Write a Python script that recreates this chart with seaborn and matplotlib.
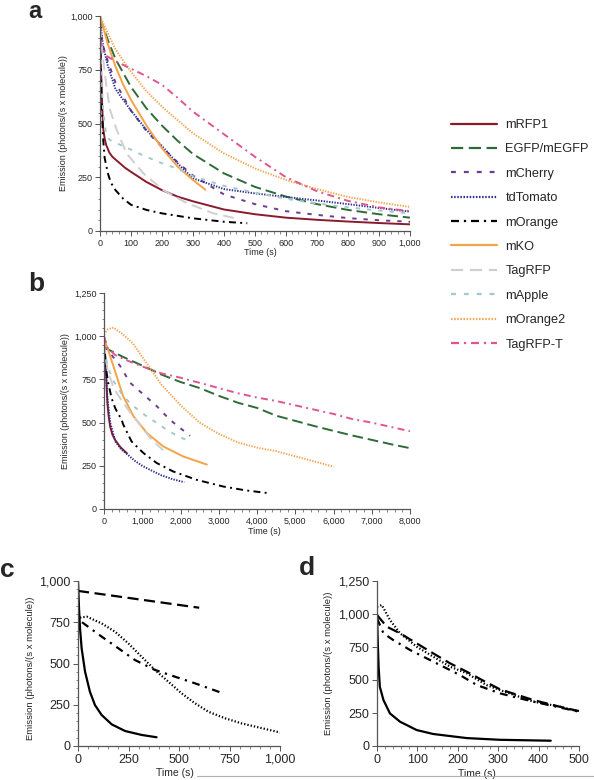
import numpy as np
import pandas as pd
import seaborn as sns
import matplotlib
matplotlib.use("Agg")
import matplotlib.pyplot as plt
from matplotlib.ticker import FuncFormatter, AutoMinorLocator, MultipleLocator
from matplotlib.lines import Line2D

sns.set_style("ticks")
plt.rcParams['font.family'] = ['Liberation Sans', 'DejaVu Sans']

# ---------------- categories / styles ----------------
PROTEINS = ["mRFP1", "EGFP/mEGFP", "mCherry", "tdTomato", "mOrange",
            "mKO", "TagRFP", "mApple", "mOrange2", "TagRFP-T"]
COLORS = ["#8b1a2b", "#2f6b38", "#6b3d8f", "#2b2f8f", "#000000",
          "#f4a347", "#cfcfcf", "#a3c8cf", "#f2a552", "#e0558e"]

# ---------------- panel a data (time s, emission) ----------------
a_time = {
    "mRFP1": [0, 3, 6, 10, 15, 20, 30, 40, 60, 80, 100, 150, 200, 250, 300, 400, 500, 600, 700, 800, 900, 1000],
    "EGFP/mEGFP": [0, 25, 50, 100, 150, 200, 250, 300, 400, 500, 600, 700, 800, 900, 1000],
    "mCherry": [0, 5, 10, 25, 50, 100, 150, 200, 250, 300, 400, 500, 600, 700, 800, 900, 1000],
    "tdTomato": [0, 5, 10, 25, 50, 100, 150, 200, 250, 300, 400, 500, 600, 700, 800, 900, 1000],
    "mOrange": [0, 2, 5, 10, 15, 25, 35, 50, 75, 100, 150, 200, 300, 400, 475],
    "mKO": [0, 10, 25, 50, 75, 100, 150, 200, 250, 300, 340],
    "TagRFP": [0, 10, 20, 32, 54, 86, 140, 204, 280, 366, 450],
    "mApple": [0, 5, 10, 20, 30, 50, 75, 100, 150, 200, 250, 300, 400, 500, 600, 700, 800, 900, 1000],
    "mOrange2": [0, 25, 50, 100, 150, 200, 300, 400, 500, 600, 700, 800, 900, 1000],
    "TagRFP-T": [0, 10, 20, 50, 100, 150, 200, 250, 300, 400, 500, 600, 700, 800, 900, 1000],
}
a_emis = {
    "mRFP1": [1000, 780, 620, 480, 430, 400, 365, 345, 320, 295, 275, 228, 190, 160, 138, 100, 78, 62, 52, 44, 37, 31],
    "EGFP/mEGFP": [990, 890, 800, 670, 570, 490, 420, 358, 268, 205, 160, 125, 98, 78, 62],
    "mCherry": [960, 900, 860, 790, 690, 560, 465, 390, 320, 258, 170, 125, 92, 75, 60, 50, 43],
    "tdTomato": [1000, 920, 860, 770, 660, 560, 470, 395, 315, 245, 195, 175, 158, 142, 125, 107, 90],
    "mOrange": [1000, 800, 600, 430, 340, 270, 225, 190, 150, 122, 98, 82, 59, 43, 36],
    "mKO": [1000, 950, 870, 765, 680, 610, 490, 385, 300, 237, 192],
    "TagRFP": [950, 800, 680, 565, 470, 360, 268, 190, 130, 82, 55],
    "mApple": [900, 700, 560, 450, 425, 410, 395, 378, 345, 315, 290, 255, 210, 178, 150, 128, 110, 95, 82],
    "mOrange2": [1000, 920, 845, 740, 650, 578, 454, 361, 291, 237, 195, 158, 133, 112],
    "TagRFP-T": [890, 840, 815, 790, 755, 720, 680, 620, 555, 450, 345, 250, 185, 140, 110, 92],
}

# ---------------- panel b data ----------------
b_time = {
    "mRFP1": [0, 25, 50, 70, 90, 120, 160, 220, 290, 420, 600],
    "EGFP/mEGFP": [0, 500, 1000, 1500, 2000, 2500, 3000, 3500, 4000, 4500, 5000, 5500, 6000, 6500, 7000, 7500, 8000],
    "mCherry": [0, 150, 420, 680, 1030, 1380, 1720, 1990, 2250],
    "tdTomato": [0, 25, 50, 90, 160, 300, 450, 600, 800, 1000, 1200, 1500, 1800, 2100],
    "mOrange": [0, 25, 50, 100, 200, 300, 460, 500, 720, 1030, 1380, 1810, 2420, 3120, 3700, 4250],
    "mKO": [0, 160, 330, 500, 770, 1120, 1550, 2070, 2690],
    "TagRFP": [0, 50, 100, 250, 500, 750, 1000, 1250, 1550],
    "mApple": [0, 100, 250, 500, 770, 1110, 1380, 1640, 1940, 2250],
    "mOrange2": [0, 100, 250, 500, 750, 1000, 1500, 2000, 2500, 3000, 3500, 4000, 4500, 5000, 5500, 6000],
    "TagRFP-T": [0, 100, 300, 600, 1000, 1500, 2000, 2500, 3000, 3500, 4000, 4500, 5000, 5500, 6000, 6500, 7000, 7500, 8000],
}
b_emis = {
    "mRFP1": [1000, 900, 810, 700, 610, 540, 478, 430, 400, 360, 322],
    "EGFP/mEGFP": [935, 880, 830, 778, 735, 700, 655, 615, 585, 540, 510, 480, 452, 425, 400, 375, 352],
    "mCherry": [940, 905, 828, 731, 663, 595, 517, 469, 424],
    "tdTomato": [1000, 880, 790, 640, 500, 390, 345, 318, 280, 250, 227, 195, 172, 155],
    "mOrange": [1000, 900, 820, 740, 640, 580, 517, 490, 391, 324, 266, 217, 169, 130, 108, 93],
    "mKO": [990, 886, 769, 653, 537, 440, 362, 304, 257],
    "TagRFP": [960, 870, 800, 700, 615, 540, 470, 400, 340],
    "mApple": [930, 820, 740, 653, 595, 537, 498, 459, 420, 391],
    "mOrange2": [1010, 1040, 1050, 1010, 960, 880, 720, 600, 500, 435, 385, 355, 335, 305, 275, 245],
    "TagRFP-T": [1000, 930, 890, 860, 825, 785, 760, 730, 700, 670, 645, 625, 600, 575, 550, 520, 500, 475, 450],
}

# ---------------- panel c data (four black curves) ----------------
c_time = {
    "solid": [0, 5, 10, 18, 35, 59, 84, 117, 167, 233, 315, 389],
    "dashed": [0, 100, 200, 300, 400, 500, 600],
    "dotted": [10, 43, 117, 183, 249, 315, 381, 447, 513, 579, 645, 728, 810, 893, 1000],
    "dashdot": [20, 117, 200, 282, 381, 480, 579, 700],
}
c_emis = {
    "solid": [1000, 834, 713, 592, 450, 329, 248, 188, 131, 91, 67, 53],
    "dashed": [940, 923, 906, 889, 872, 855, 838],
    "dotted": [778, 784, 743, 693, 622, 541, 461, 390, 319, 259, 208, 168, 137, 113, 82],
    "dashdot": [750, 663, 592, 521, 461, 420, 380, 327],
}

# ---------------- panel d data ----------------
d_time = {
    "solid": [0, 2, 4, 7, 16, 32, 57, 98, 139, 222, 304, 430],
    "dashed": [0, 24, 57, 98, 139, 181, 222, 263, 304, 387, 469, 500],
    "dotted": [0, 12, 32, 57, 98, 139, 181, 222, 271, 304, 387, 453, 500],
    "dashdot": [0, 16, 40, 82, 123, 164, 205, 247, 304, 387, 500],
}
d_emis = {
    "solid": [1000, 780, 601, 449, 348, 247, 184, 121, 91, 60, 47, 40],
    "dashed": [993, 904, 854, 778, 702, 626, 563, 495, 430, 348, 285, 265],
    "dotted": [1055, 1068, 955, 854, 753, 677, 601, 551, 462, 424, 336, 298, 260],
    "dashdot": [967, 854, 803, 727, 664, 601, 538, 462, 399, 336, 260],
}

CD_SERIES = ["solid", "dashed", "dotted", "dashdot"]

# ---------------- styles ----------------
DASHES = {
    "mRFP1": "",
    "EGFP/mEGFP": (5.5, 2.5),
    "mCherry": (2.2, 3.6),
    "tdTomato": (0.7, 0.7),
    "mOrange": (3.6, 2.2, 1.0, 2.2),
    "mKO": "",
    "TagRFP": (5.5, 3.0),
    "mApple": (2.2, 3.6),
    "mOrange2": (0.7, 0.7),
    "TagRFP-T": (3.6, 2.2, 1.0, 2.2),
}
CD_DASHES = {"solid": "", "dashed": (5, 2.5), "dotted": (0.6, 0.9), "dashdot": (3.5, 2.5, 1.0, 2.5)}
PALETTE = dict(zip(PROTEINS, COLORS))


def long_df(times, emis):
    rows = []
    for k in times:
        for t, v in zip(times[k], emis[k]):
            rows.append((k, t, v))
    return pd.DataFrame(rows, columns=["series", "time", "emission"])


thous = FuncFormatter(lambda x, p: f"{x:,.0f}")
SPINE = "#555555"

fig = plt.figure(figsize=(5.94, 7.80), dpi=100)
W, H = 594.0, 780.0


def add_ax(l, r, t, b):
    return fig.add_axes([l / W, 1 - b / H, (r - l) / W, (b - t) / H])


def style_ax(ax, xmax, xstep, ymax, ystep, fs, minor_x=True, minor_y=True):
    ax.set_xlim(0, xmax)
    ax.set_ylim(0, ymax)
    ax.xaxis.set_major_locator(MultipleLocator(xstep))
    ax.yaxis.set_major_locator(MultipleLocator(ystep))
    ax.xaxis.set_major_formatter(thous)
    ax.yaxis.set_major_formatter(thous)
    if minor_x:
        ax.xaxis.set_minor_locator(AutoMinorLocator(5))
    if minor_y:
        ax.yaxis.set_minor_locator(AutoMinorLocator(5))
    for s in ["top", "right"]:
        ax.spines[s].set_visible(False)
    for s in ["left", "bottom"]:
        ax.spines[s].set_color(SPINE)
        ax.spines[s].set_linewidth(0.9)
    ax.tick_params(which="major", length=3.5, width=0.7, color=SPINE, labelsize=fs, pad=2)
    ax.tick_params(which="minor", length=1.8, width=0.5, color=SPINE)


# ---- panel a ----
ax_a = add_ax(100, 410, 16, 231)
sns.lineplot(data=long_df(a_time, a_emis), x="time", y="emission", hue="series", style="series",
             hue_order=PROTEINS, style_order=PROTEINS, palette=PALETTE, dashes=DASHES,
             linewidth=1.4, estimator=None, sort=False, legend=False, ax=ax_a)
style_ax(ax_a, 1000, 100, 1000, 250, 6.5)
ax_a.set_xlabel("Time (s)", fontsize=6.5)
ax_a.set_ylabel("Emission (photons/(s x molecule))", fontsize=6.5)
ax_a.xaxis.set_label_coords((260 - 100) / 310, (231 - 248) / 215)
ax_a.yaxis.set_label_coords((67.5 - 100) / 310, 0.5)

# ---- panel b ----
ax_b = add_ax(104, 410, 293, 509)
sns.lineplot(data=long_df(b_time, b_emis), x="time", y="emission", hue="series", style="series",
             hue_order=PROTEINS, style_order=PROTEINS, palette=PALETTE, dashes=DASHES,
             linewidth=1.4, estimator=None, sort=False, legend=False, ax=ax_b)
style_ax(ax_b, 8000, 1000, 1250, 250, 6.5)
ax_b.set_xlabel("Time (s)", fontsize=6.5)
ax_b.set_ylabel("Emission (photons/(s x molecule))", fontsize=6.5)
ax_b.xaxis.set_label_coords((264 - 104) / 306, (509 - 527) / 216)
ax_b.yaxis.set_label_coords((69.5 - 104) / 306, 0.5)

# ---- panel c ----
ax_c = add_ax(78, 280, 581, 746)
sns.lineplot(data=long_df(c_time, c_emis), x="time", y="emission", hue="series", style="series",
             hue_order=CD_SERIES, style_order=CD_SERIES, palette=["black"] * 4, dashes=CD_DASHES,
             linewidth=1.6, estimator=None, sort=False, legend=False, ax=ax_c)
style_ax(ax_c, 1000, 250, 1000, 250, 9)
ax_c.set_xlabel("Time (s)", fontsize=7.5)
ax_c.set_ylabel("Emission (photons/(s x molecule))", fontsize=6.8)
ax_c.xaxis.set_label_coords((175 - 78) / 202, (746 - 768) / 165)
ax_c.yaxis.set_label_coords((35 - 78) / 202, 0.47)

# ---- panel d ----
ax_d = add_ax(377, 579, 581, 746)
sns.lineplot(data=long_df(d_time, d_emis), x="time", y="emission", hue="series", style="series",
             hue_order=CD_SERIES, style_order=CD_SERIES, palette=["black"] * 4, dashes=CD_DASHES,
             linewidth=1.6, estimator=None, sort=False, legend=False, ax=ax_d)
style_ax(ax_d, 500, 100, 1250, 250, 9, minor_y=False)
ax_d.set_xlabel("Time (s)", fontsize=7.5)
ax_d.set_ylabel("Emission (photons/(s x molecule))", fontsize=6.8)
ax_d.xaxis.set_label_coords((477 - 377) / 202, (746 - 769) / 165)
ax_d.yaxis.set_label_coords((333 - 377) / 202, 0.5)

# ---- legend ----
handles = []
for p, c in zip(PROTEINS, COLORS):
    d = DASHES[p]
    if d == "":
        h = Line2D([], [], color=c, lw=1.6, linestyle="-")
    else:
        h = Line2D([], [], color=c, lw=1.6, dashes=d)
    handles.append(h)
fig.legend(handles, PROTEINS, loc="upper left", bbox_to_anchor=(451 / W, 1 - 119 / H),
           frameon=False, fontsize=9.2, handlelength=3.6, handletextpad=0.65,
           labelspacing=0.97, borderpad=0, borderaxespad=0)

# ---- panel letters ----
fig.text(28 / W, 1 - 17.5 / H, "a", fontsize=17, fontweight="bold", va="baseline", ha="left")
for letter, x, yb in [("b", 28, 291), ("c", 0, 577), ("d", 299, 575)]:
    fig.text(x / W, 1 - yb / H, letter, fontsize=19, fontweight="bold", va="baseline", ha="left")

# thin grey rule at the bottom
fig.add_artist(Line2D([197 / W, 1.0], [1 - 776 / H, 1 - 776 / H], transform=fig.transFigure,
                      color="#b0b0b0", lw=0.8))

fig.savefig("out.png", dpi=100)
